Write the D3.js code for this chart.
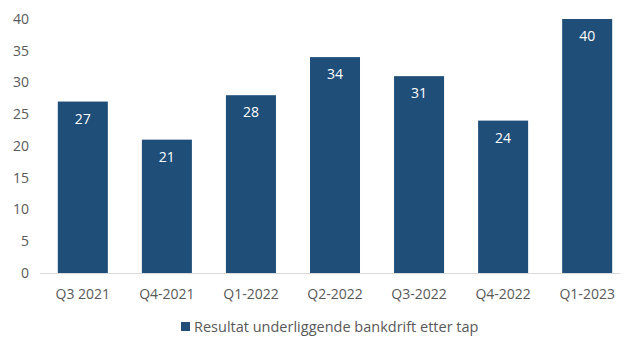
<!DOCTYPE html>
<html>
<head>
<meta charset="utf-8">
<script src="https://cdn.jsdelivr.net/npm/d3@7"></script>
<style>
  body { margin: 0; background: #fff; }
  text { font-family: "Open Sans", "Noto Sans", sans-serif; }
</style>
</head>
<body>
<svg id="chart" width="624" height="338"></svg>
<script>
const categories = ["Q3 2021", "Q4-2021", "Q1-2022", "Q2-2022", "Q3-2022", "Q4-2022", "Q1-2023"];
const values = [27, 21, 28, 34, 31, 24, 40];
const yTicks = [0, 5, 10, 15, 20, 25, 30, 35, 40];
const seriesName = "Resultat underliggende bankdrift etter tap";

const barColor = "#1f4e79";
const textColor = "#595959";

const svg = d3.select("#chart");

const x = d3.scaleBand()
    .domain(categories)
    .range([41, 629])
    .paddingInner(0.405)
    .paddingOuter(0.2);

const y = d3.scaleLinear()
    .domain([0, 40])
    .range([273, 19]);

// axis baseline
svg.append("line")
    .attr("x1", 40).attr("x2", 620)
    .attr("y1", y(0) + 0.5).attr("y2", y(0) + 0.5)
    .attr("stroke", "#d9d9d9");

// y axis labels
const yAxis = svg.append("g")
    .attr("transform", "translate(29,0)")
    .call(d3.axisLeft(y).tickValues(yTicks).tickSize(0).tickPadding(0));
yAxis.select(".domain").remove();
yAxis.selectAll("text")
    .attr("fill", textColor)
    .style("font-size", "14px");

// x axis labels
const xAxis = svg.append("g")
    .attr("transform", `translate(0,${y(0)})`)
    .call(d3.axisBottom(x).tickSize(0).tickPadding(16));
xAxis.select(".domain").remove();
xAxis.selectAll("text")
    .attr("fill", textColor)
    .style("font-size", "14px");

// bars
svg.append("g").selectAll("rect")
    .data(values)
    .join("rect")
    .attr("x", (d, i) => x(categories[i]))
    .attr("y", d => y(d))
    .attr("width", x.bandwidth())
    .attr("height", d => y(0) - y(d))
    .attr("fill", barColor);

// value labels
svg.append("g").selectAll("text")
    .data(values)
    .join("text")
    .attr("x", (d, i) => x(categories[i]) + x.bandwidth() / 2)
    .attr("y", d => y(d) + 22)
    .attr("text-anchor", "middle")
    .attr("fill", "#fff")
    .style("font-size", "14px")
    .text(d => d);

// legend
const legend = svg.append("g").attr("transform", "translate(181,322)");
legend.append("rect")
    .attr("width", 9).attr("height", 9)
    .attr("fill", barColor);
legend.append("text")
    .attr("x", 13).attr("y", 10)
    .attr("fill", textColor)
    .style("font-size", "14.5px")
    .text(seriesName);
</script>
</body>
</html>
